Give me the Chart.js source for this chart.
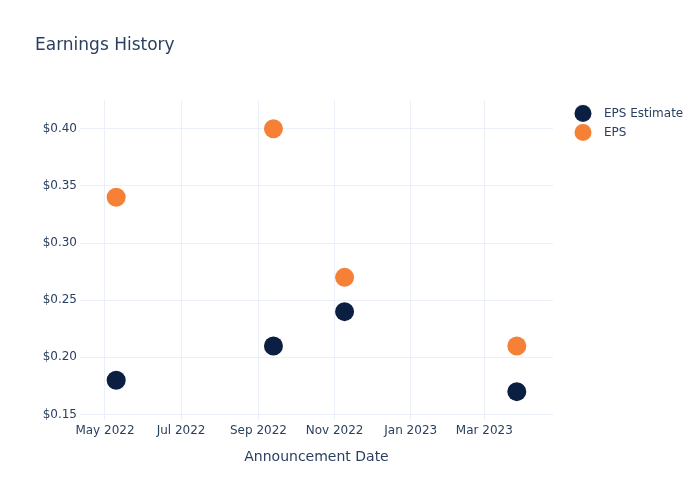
<!DOCTYPE html>
<html>
<head>
<meta charset="utf-8">
<title>Earnings History</title>
<script src="https://cdn.jsdelivr.net/npm/chart.js@4/dist/chart.umd.min.js"></script>
<style>
  html, body { margin: 0; padding: 0; background: #fff; }
  #wrap { width: 700px; height: 500px; }
</style>
</head>
<body>
<div id="wrap"><canvas id="chart" width="700" height="500"></canvas></div>
<script>
// announcement dates and values
const announceDates = ['2022-05-10', '2022-09-13', '2022-11-09', '2023-03-27'];
const epsEstimate = [0.18, 0.21, 0.24, 0.17];
const epsActual = [0.34, 0.40, 0.27, 0.21];

// tick labels
const xTickDates = ['2022-05-01', '2022-07-01', '2022-09-01', '2022-11-01', '2023-01-01', '2023-03-01'];
const yTickValues = [0.15, 0.20, 0.25, 0.30, 0.35, 0.40];

const monthNames = ['Jan', 'Feb', 'Mar', 'Apr', 'May', 'Jun', 'Jul', 'Aug', 'Sep', 'Oct', 'Nov', 'Dec'];
const textColor = '#2a3f5f';
const gridColor = '#ebf0f8';

function toTime(s) {
    return Date.parse(s + 'T00:00:00Z');
}

function toPoints(values) {
    return values.map((v, i) => ({ x: toTime(announceDates[i]), y: v }));
}

// legend marker: a dot sitting on the left of a wider box, so the label gets more room
function legendDot(color) {
    const c = document.createElement('canvas');
    c.width = 24;
    c.height = 19;
    const g = c.getContext('2d');
    g.fillStyle = color;
    g.beginPath();
    g.arc(9, 9.5, 8.5, 0, Math.PI * 2);
    g.fill();
    return c;
}

// the legend box comes out a little narrow for the wider marker, widen it
const widenLegend = {
    id: 'widenLegend',
    beforeLayout: function (chart) {
        const legend = chart.legend;
        if (!legend || legend._widened) return;
        const fit = legend.fit;
        legend.fit = function () {
            fit.call(this);
            this.width += 8;
            if (this.legendHitBoxes) {
                this.legendHitBoxes.forEach(b => { b.w += 8; });
            }
        };
        legend._widened = true;
    },
};

Chart.defaults.font.family = '"DejaVu Sans", Verdana, sans-serif';
Chart.defaults.color = textColor;

const ctx = document.getElementById('chart').getContext('2d');
new Chart(ctx, {
    type: 'scatter',
    data: {
        datasets: [
            {
                label: 'EPS Estimate',
                data: toPoints(epsEstimate),
                backgroundColor: '#0b1f42',
                borderWidth: 0,
                pointRadius: 9.5,
                pointHoverRadius: 9.5,
            },
            {
                label: 'EPS',
                data: toPoints(epsActual),
                backgroundColor: '#f68136',
                borderWidth: 0,
                pointRadius: 9.5,
                pointHoverRadius: 9.5,
            },
        ],
    },
    plugins: [widenLegend],
    options: {
        responsive: false,
        animation: false,
        layout: {
            padding: { left: 35, right: 17, top: 0, bottom: 20 },
        },
        plugins: {
            title: {
                display: true,
                text: 'Earnings History',
                align: 'start',
                color: textColor,
                font: { size: 17, weight: 'normal' },
                padding: { top: 35, bottom: 45 },
            },
            legend: {
                position: 'right',
                align: 'start',
                fullSize: false,
                labels: {
                    usePointStyle: true,
                    pointStyleWidth: 24,
                    color: textColor,
                    font: { size: 12 },
                    padding: 7,
                    generateLabels: function (chart) {
                        const items = Chart.defaults.plugins.legend.labels.generateLabels(chart);
                        items.forEach(item => {
                            item.pointStyle = legendDot(item.fillStyle);
                        });
                        return items;
                    },
                },
            },
            tooltip: { enabled: false },
        },
        scales: {
            x: {
                type: 'linear',
                min: toTime('2022-04-11'),
                max: toTime('2023-04-25'),
                afterBuildTicks: function (scale) {
                    scale.ticks = xTickDates.map(d => ({ value: toTime(d) }));
                },
                afterFit: function (scale) {
                    scale.height = 60;
                },
                grid: { color: gridColor, drawTicks: false },
                border: { display: false },
                ticks: {
                    padding: 4,
                    maxRotation: 0,
                    autoSkip: false,
                    font: { size: 12 },
                    callback: function (value) {
                        const d = new Date(value);
                        return monthNames[d.getUTCMonth()] + ' ' + d.getUTCFullYear();
                    },
                },
                title: {
                    display: true,
                    text: 'Announcement Date',
                    color: textColor,
                    font: { size: 14 },
                    padding: { top: 0, bottom: 14 },
                },
            },
            y: {
                min: 0.1452,
                max: 0.4248,
                afterBuildTicks: function (scale) {
                    scale.ticks = yTickValues.map(v => ({ value: v }));
                },
                afterFit: function (scale) {
                    scale.width = 45;
                },
                grid: { color: gridColor, drawTicks: false },
                border: { display: false },
                ticks: {
                    padding: 3,
                    font: { size: 12 },
                    callback: function (value) {
                        return '$' + value.toFixed(2);
                    },
                },
            },
            // empty spacer between the plot and the legend
            gap: {
                position: 'right',
                grid: { display: false },
                border: { display: false },
                ticks: { display: false },
                afterFit: function (scale) {
                    scale.width = 14;
                },
            },
        },
    },
});
</script>
</body>
</html>
